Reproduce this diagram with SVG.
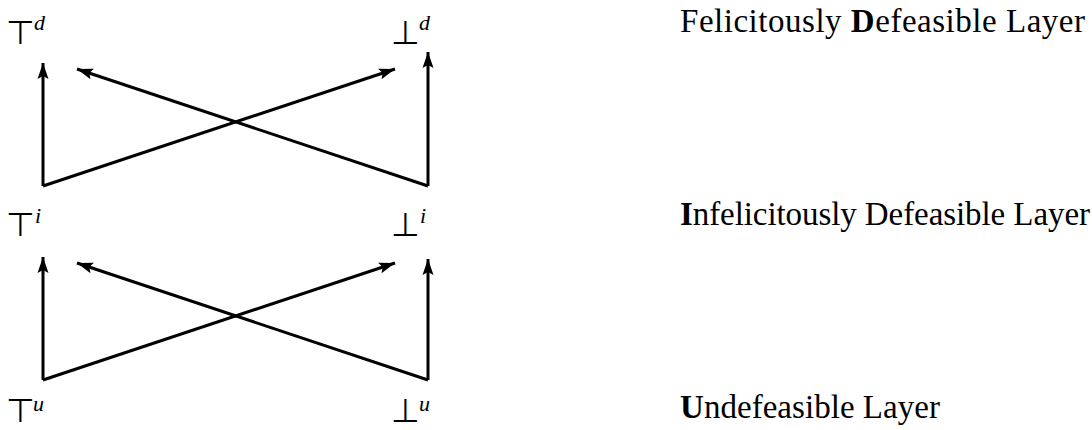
<svg xmlns="http://www.w3.org/2000/svg" width="1092" height="430" viewBox="0 0 1092 430">
<style>
.edge{stroke:#000;stroke-width:3;fill:none;marker-end:url(#ah)}
.sym{font-family:"DejaVu Sans","Liberation Serif",serif;font-size:33px;font-weight:200;fill:#000}
.sup{font-family:"Liberation Serif",serif;font-style:italic;font-size:22px;fill:#000}
.lbl{font-family:"Liberation Serif",serif;font-size:33px;fill:#000}
.b{font-weight:bold}
</style>
<defs>
<marker id="ah" markerUnits="userSpaceOnUse" markerWidth="20" markerHeight="14" viewBox="-17 -7 20 14" refX="0" refY="0" orient="auto">
<path d="M0,0 L-16,-5.5 L-13,0 L-16,5.5 Z" fill="#000"/>
</marker>
</defs>
<g id="connectors">
<line class="edge" x1="43" y1="186" x2="43" y2="63"/>
<line class="edge" x1="428" y1="186" x2="428" y2="52"/>
<line class="edge" x1="43" y1="186" x2="395" y2="69"/>
<line class="edge" x1="428" y1="186" x2="77" y2="69"/>
<line class="edge" x1="43" y1="380" x2="43" y2="257"/>
<line class="edge" x1="428" y1="380" x2="428" y2="259"/>
<line class="edge" x1="43" y1="380" x2="395" y2="263"/>
<line class="edge" x1="428" y1="380" x2="77" y2="263"/>
</g>
<g id="top-d"><text class="sym" x="6" y="44">⊤</text><text class="sup" x="34" y="30">d</text></g>
<g id="bot-d"><text class="sym" x="391" y="44">⊥</text><text class="sup" x="419" y="30">d</text></g>
<g id="top-i"><text class="sym" x="6" y="236">⊤</text><text class="sup" x="35" y="223">i</text></g>
<g id="bot-i"><text class="sym" x="391" y="236">⊥</text><text class="sup" x="420" y="223">i</text></g>
<g id="top-u"><text class="sym" x="6" y="422">⊤</text><text class="sup" x="33" y="411">u</text></g>
<g id="bot-u"><text class="sym" x="391" y="422">⊥</text><text class="sup" x="419" y="411">u</text></g>
<g id="layer-d"><text class="lbl" x="680" y="32" textLength="405">Felicitously <tspan class="b">D</tspan>efeasible Layer</text></g>
<g id="layer-i"><text class="lbl" x="680" y="225" textLength="410"><tspan class="b">I</tspan>nfelicitously Defeasible Layer</text></g>
<g id="layer-u"><text class="lbl" x="680" y="418" textLength="260"><tspan class="b">U</tspan>ndefeasible Layer</text></g>
</svg>
